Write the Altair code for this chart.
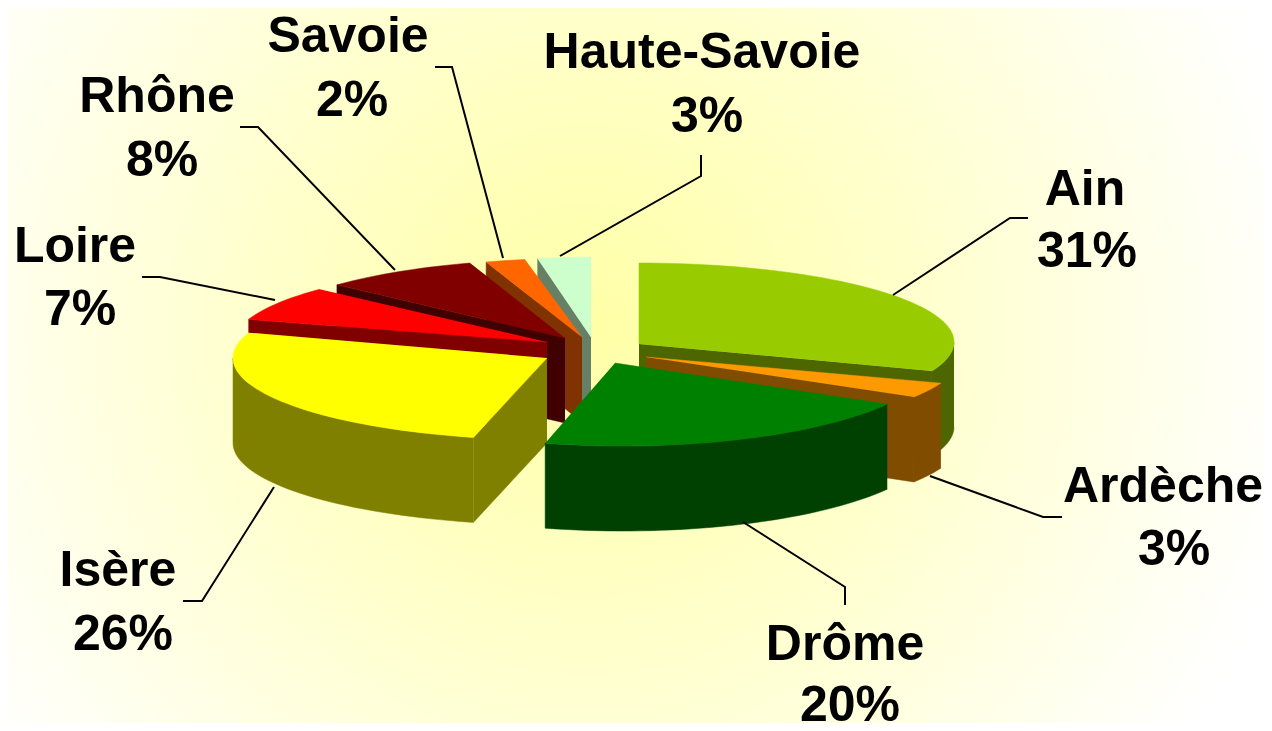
import math
import altair as alt
import pandas as pd

# --- chart values
departments = ["Ain", "Ardèche", "Drôme", "Isère", "Loire", "Rhône", "Savoie", "Haute-Savoie"]
shares = [31, 3, 20, 26, 7, 8, 2, 3]
top_colors = ["#99CC00", "#FF9900", "#008000", "#FFFF00", "#FF0000", "#800000", "#FF6600", "#CCFFCC"]
side_colors = ["#4D6600", "#804D00", "#004000", "#808000", "#800000", "#400000", "#803300", "#668066"]

# --- 3D pie model (exploded wedge tips, ellipse centres and radii, extrusion)
tip_x = [639, 646, 615, 547, 547, 565, 582, 591]
tip_y = [344, 357, 363, 358, 342, 338, 337, 337]
arc_x = [639, 648, 623, 553, 553, 568, 585, 591]
arc_y = [342, 353, 356, 358, 344, 341, 340, 338]
arc_rx = [315, 315, 313, 320, 320, 317, 320, 285]
arc_ry = [79, 82, 90, 82, 80, 82, 82, 81]
DEPTH = 85
paint_order = [7, 6, 5, 4, 0, 1, 3, 2]

# --- annotation placement
label_x = [1085, 1163, 845, 118, 75, 157, 348, 702]
pct_x = [1087, 1174, 850, 123, 80, 162, 352, 707]
name_y = [205, 502, 660, 586, 262, 112, 52, 68]
pct_y = [267, 565, 721, 650, 325, 176, 116, 132]
leader_x = [[893, 1010, 1028], [930, 1043, 1062], [743, 845, 845], [274, 202, 183],
            [275, 160, 142], [395, 258, 240], [503, 452, 435], [560, 701, 701]]
leader_y = [[295, 218, 218], [476, 517, 517], [522, 587, 605], [487, 601, 601],
            [300, 277, 277], [270, 127, 127], [258, 67, 67], [256, 176, 155]]

W, H = 1256, 715


def arc_point(i, deg):
    a = math.radians(deg)
    return arc_x[i] + arc_rx[i] * math.sin(a), arc_y[i] - arc_ry[i] * math.cos(a)


def arc(i, a0, a1):
    n = max(2, int(abs(a1 - a0) / 2) + 1)
    return [arc_point(i, a0 + (a1 - a0) * k / n) for k in range(n + 1)]


rows = []
poly = 0


def add_poly(points, color):
    global poly
    for seq, (x, y) in enumerate(points):
        rows.append({"poly": poly, "seq": seq, "px": x, "py": y, "c": color})
    poly += 1


bounds = [0]
for s in shares:
    bounds.append(bounds[-1] + s * 3.6)

for i in paint_order:
    a0, a1 = bounds[i], bounds[i + 1]
    tip = (tip_x[i], tip_y[i])
    down = lambda p: (p[0], p[1] + DEPTH)
    if 180 < a0 < 360:
        p = arc_point(i, a0)
        add_poly([tip, p, down(p), down(tip)], side_colors[i])
    if 0 < a1 < 180:
        p = arc_point(i, a1)
        add_poly([tip, p, down(p), down(tip)], side_colors[i])
    w0, w1 = max(a0, 90), min(a1, 270)
    if w1 > w0:
        pts = arc(i, w0, w1)
        add_poly(pts + [down(p) for p in reversed(pts)], side_colors[i])
    add_poly([tip] + arc(i, a0, a1), top_colors[i])

polys = pd.DataFrame(rows)
xs = alt.Scale(domain=[8, 8 + W], nice=False, zero=False)
ys = alt.Scale(domain=[8 + H, 8], nice=False, zero=False)
X = alt.X("px:Q", scale=xs, axis=None)
Y = alt.Y("py:Q", scale=ys, axis=None)

background = alt.Chart(pd.DataFrame({"k": [0]})).mark_rect(
    fill=alt.RadialGradient(
        gradient="radial",
        x1=0.46, y1=0.47, r1=0, x2=0.46, y2=0.47, r2=0.58,
        stops=[
            alt.GradientStop(offset=0, color="#FFFFA6"),
            alt.GradientStop(offset=0.45, color="#FFFFCC"),
            alt.GradientStop(offset=1, color="#FFFFFF"),
        ],
    )
).encode(x=alt.value(0), x2=alt.value(W), y=alt.value(0), y2=alt.value(H))

pie = alt.Chart(polys).mark_line(interpolate="linear", strokeWidth=0.5).encode(
    x=X, y=Y,
    order="seq:Q",
    detail="poly:N",
    fill=alt.Fill("c:N", scale=None),
    stroke=alt.Stroke("c:N", scale=None),
)

lead_rows = [
    {"d": departments[i], "seq": k, "px": lx, "py": ly}
    for i in range(len(departments))
    for k, (lx, ly) in enumerate(zip(leader_x[i], leader_y[i]))
]
leaders = alt.Chart(pd.DataFrame(lead_rows)).mark_line(color="black", strokeWidth=2).encode(
    x=X, y=Y, order="seq:Q", detail="d:N"
)

text_rows = []
for i, d in enumerate(departments):
    text_rows.append({"t": d, "px": label_x[i], "py": name_y[i]})
    text_rows.append({"t": f"{shares[i]}%", "px": pct_x[i], "py": pct_y[i]})
labels = alt.Chart(pd.DataFrame(text_rows)).mark_text(
    font="Liberation Sans", fontWeight="bold", fontSize=50, color="black",
    align="center", baseline="alphabetic",
).encode(x=X, y=Y, text="t:N")

chart = (
    alt.layer(background, pie, leaders, labels)
    .properties(width=W, height=H, padding=0, background="#FFFFFF")
    .configure_view(stroke=None)
)
chart.save("out.html", embed_options={"renderer": "svg", "actions": False})
